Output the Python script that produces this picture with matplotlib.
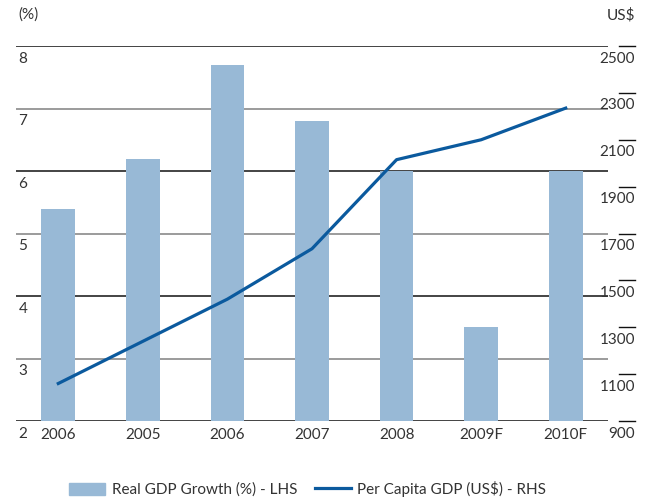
import matplotlib.pyplot as plt
from matplotlib.transforms import blended_transform_factory, offset_copy
from matplotlib.lines import Line2D
from matplotlib.patches import Patch

years = ["2006", "2005", "2006", "2007", "2008", "2009F", "2010F"]
gdp_growth = [5.4, 6.2, 7.7, 6.8, 6.0, 3.5, 6.0]
per_capita = [1060, 1240, 1420, 1635, 2015, 2100, 2235]
left_ticks = [2, 3, 4, 5, 6, 7, 8]
right_ticks = [900, 1100, 1300, 1500, 1700, 1900, 2100, 2300, 2500]

plt.rcParams['font.family'] = ['Lato', 'DejaVu Sans']
text_col = "#333333"
bar_col = "#98b9d6"
line_col = "#0b5a9e"
fs = 11

fig = plt.figure(figsize=(6.51, 5.03), dpi=100)
ax = fig.add_axes([16 / 651, 82 / 503, 592 / 651, 375 / 503])
ax2 = ax.twinx()

x = list(range(len(years)))

# gridlines, even values dark, odd values gray
for v in left_ticks:
    c = "#111111" if v % 2 == 0 else "#808080"
    ax.axhline(v, color=c, lw=1.1, zorder=1)

ax.bar(x, gdp_growth, width=0.4, bottom=0, color=bar_col, zorder=2)
ax.set_ylim(2, 8)
ax.set_xlim(-0.5, 6.5)

ax2.plot(x, per_capita, color=line_col, lw=2.3, zorder=3)
ax2.set_ylim(900, 2500)

ax.set_zorder(1)
ax2.set_zorder(2)
ax.patch.set_visible(False)

for a in (ax, ax2):
    for s in a.spines.values():
        s.set_visible(False)
    a.set_yticks([])
    a.tick_params(length=0)

ax.set_xticks(x)
ax.set_xticklabels(years, fontsize=fs, color=text_col)
ax.tick_params(axis='x', pad=5)

# left labels below each gridline
trl = offset_copy(blended_transform_factory(ax.transAxes, ax.transData), fig=fig, x=0, y=-4, units='points')
for v in left_ticks:
    ax.text(0.004, v, str(v), transform=trl, ha='left', va='top', fontsize=fs, color=text_col)

# right labels with short marks above
trr = blended_transform_factory(ax2.transAxes, ax2.transData)
trr_off = offset_copy(trr, fig=fig, x=0, y=-4, units='points')
for v in right_ticks:
    ax2.plot([1.0186, 1.0456], [v, v], transform=trr, color="#111111", lw=1.0, clip_on=False)
    ax2.text(1.0456, v, str(v), transform=trr_off, ha='right', va='top', fontsize=fs, color=text_col)

fig.text(18 / 651, 1 - 15 / 503, "(%)", ha='left', va='center', fontsize=fs, color=text_col)
fig.text(635 / 651, 1 - 15 / 503, "US$", ha='right', va='center', fontsize=fs, color=text_col)

handles = [Patch(color=bar_col), Line2D([], [], color=line_col, lw=2.3)]
labels = ["Real GDP Growth (%) - LHS", "Per Capita GDP (US$) - RHS"]
fig.legend(handles, labels, loc='center', bbox_to_anchor=(0.473, 1 - 489 / 503), ncol=2,
           frameon=False, fontsize=fs, handlelength=2.35, handleheight=0.8,
           columnspacing=1.2, handletextpad=0.4, labelcolor=text_col)

fig.savefig("out.png", dpi=100)
